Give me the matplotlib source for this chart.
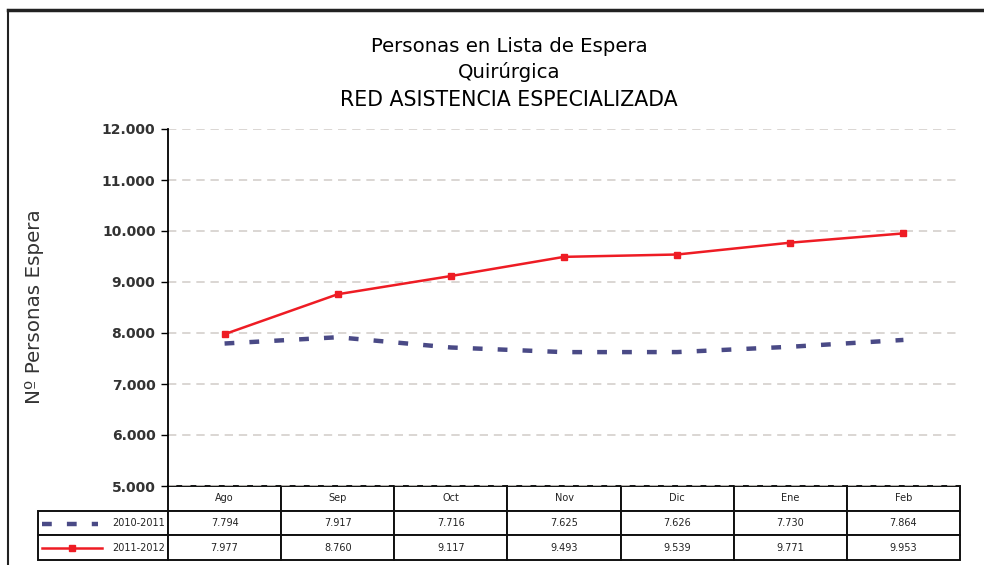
import matplotlib
matplotlib.use("Agg")
import matplotlib.pyplot as plt
from matplotlib.ticker import FuncFormatter, FixedLocator
from matplotlib.lines import Line2D

plt.rcParams['font.family'] = ['DejaVu Sans']

months = ["Ago", "Sep", "Oct", "Nov", "Dic", "Ene", "Feb"]
series_names = ["2010-2011", "2011-2012"]
s2010 = [7794, 7917, 7716, 7625, 7626, 7730, 7864]
s2011 = [7977, 8760, 9117, 9493, 9539, 9771, 9953]
yticks = [5000, 6000, 7000, 8000, 9000, 10000, 11000, 12000]
title_lines = ["Personas en Lista de Espera", "Quirúrgica", "RED ASISTENCIA ESPECIALIZADA"]
ylabel = "Nº Personas Espera"

W, H = 984, 565
fig = plt.figure(figsize=(W / 100, H / 100), dpi=100)

x0, x1 = 168, 960
ytop, ybot = 129, 486
ax = fig.add_axes([x0 / W, (H - ybot) / H, (x1 - x0) / W, (ybot - ytop) / H])

x = list(range(len(months)))
ax.set_xlim(-0.5, len(months) - 0.5)
ax.set_ylim(5000, 12000)

blue = "#4a4a86"
red = "#ee1c24"
ax.plot(x, s2010, color=blue, lw=3.2, ls=(0, (2.2, 3.4)), zorder=3)
ax.plot(x, s2011, color=red, lw=1.8, marker="s", ms=5, zorder=4)

fmt = lambda v: f"{int(v):,}".replace(",", ".")
ax.yaxis.set_major_locator(FixedLocator(yticks))
ax.yaxis.set_major_formatter(FuncFormatter(lambda v, p: fmt(v)))
ax.tick_params(axis="y", labelsize=10, length=5, width=1, direction="out", pad=4)
ax.set_xticks([])
ax.grid(axis="y", color="#d4d0cc", ls=(0, (5, 3.5)), lw=1.2)
ax.set_axisbelow(True)
for s in ["top", "right", "bottom"]:
    ax.spines[s].set_visible(False)
ax.spines["left"].set_linewidth(1.3)
for lbl in ax.get_yticklabels():
    lbl.set_fontweight("bold")
    lbl.set_color("#333333")

fig.text(35 / W, 1 - 307 / H, ylabel, rotation=90, ha="center", va="center",
         fontsize=14.3, color="#333333")

fig.text(509 / W, 1 - 47 / H, title_lines[0], ha="center", va="center", fontsize=14.2)
fig.text(509 / W, 1 - 72 / H, title_lines[1], ha="center", va="center", fontsize=14.2)
fig.text(509 / W, 1 - 100 / H, title_lines[2], ha="center", va="center", fontsize=14.8)

# table
tl = 38
tb_top, tb_bot = 486, 560
axw = x1 - x0
axh = ybot - ytop
bbox = [(tl - x0) / axw, -(tb_bot - ybot) / axh, (x1 - tl) / axw, (tb_bot - tb_top) / axh]
cell_text = [[series_names[0]] + [fmt(v) for v in s2010],
             [series_names[1]] + [fmt(v) for v in s2011]]
lw_col = (x0 - tl) / (x1 - tl)
cw = (1 - lw_col) / len(months)
tab = ax.table(cellText=cell_text, colLabels=[""] + months,
               cellLoc="center", colLoc="center",
               colWidths=[lw_col] + [cw] * len(months), bbox=bbox)
tab.auto_set_font_size(False)
tab.set_fontsize(7)
for (r, c), cell in tab.get_celld().items():
    cell.set_linewidth(1.4)
    cell.set_edgecolor("#111111")
    cell.get_text().set_color("#222222")
    if c == 0:
        cell._loc = "right"
        cell.PAD = 0.02
        cell.get_text().set_ha("right")
tab[0, 0].visible_edges = "open"

def ax_x(px):
    return (px - x0) / axw

def ax_y(py):
    return (ybot - py) / axh

ax.add_line(Line2D([ax_x(42), ax_x(98)], [ax_y(524), ax_y(524)], color=blue, lw=3.2,
                   ls=(0, (2.2, 3.4)), clip_on=False, transform=ax.transAxes))
ax.add_line(Line2D([ax_x(42), ax_x(102)], [ax_y(548), ax_y(548)], color=red, lw=1.8,
                   clip_on=False, transform=ax.transAxes))
ax.add_line(Line2D([ax_x(72)], [ax_y(548)], color=red, marker="s", ms=4, lw=0,
                   clip_on=False, transform=ax.transAxes))

fig.add_artist(Line2D([8 / W, 8 / W], [0, 1 - 10 / H], color="#222222", lw=1.5,
                      transform=fig.transFigure))
fig.add_artist(Line2D([8 / W, 1], [1 - 10 / H, 1 - 10 / H], color="#222222", lw=2.5,
                      transform=fig.transFigure))

fig.savefig("out.png", dpi=100)
